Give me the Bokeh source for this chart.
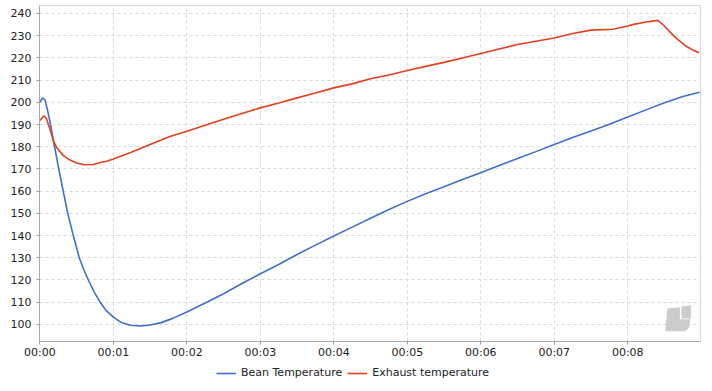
from bokeh.plotting import figure
from bokeh.layouts import column
from bokeh.models import Legend, LegendItem, FixedTicker, Range1d
from bokeh.embed import file_html
from bokeh.resources import INLINE

bean_t = [0, 0.036, 0.07, 0.105, 0.145, 0.2, 0.257, 0.315, 0.38, 0.455, 0.536, 0.6, 0.66, 0.74, 0.82, 0.9, 1.0, 1.1, 1.23, 1.37, 1.5, 1.65, 1.8, 2.0, 2.25, 2.5, 2.75, 3.0, 3.25, 3.5, 3.75, 4.0, 4.25, 4.5, 4.75, 5.0, 5.25, 5.5, 5.75, 6.0, 6.25, 6.5, 6.75, 7.0, 7.25, 7.5, 7.75, 8.0, 8.25, 8.5, 8.75, 8.98]
bean_v = [200, 202, 201, 196.4, 190, 180, 170, 160.4, 150, 140, 130, 124.5, 120, 114.5, 110, 106.3, 103.3, 101, 99.6, 99.3, 99.7, 100.8, 102.6, 105.6, 109.6, 113.8, 118.4, 122.8, 127, 131.5, 135.7, 139.8, 143.8, 147.8, 151.7, 155.4, 158.8, 162, 165.2, 168.3, 171.5, 174.7, 177.8, 181, 184.2, 187.1, 190.1, 193.4, 196.6, 199.8, 202.6, 204.5]

exhaust_t = [0, 0.055, 0.09, 0.136, 0.18, 0.227, 0.32, 0.41, 0.5, 0.61, 0.73, 0.82, 0.91, 1.0, 1.25, 1.5, 1.75, 2.0, 2.25, 2.5, 2.75, 3.0, 3.25, 3.5, 3.75, 4.0, 4.25, 4.5, 4.75, 5.0, 5.25, 5.5, 5.75, 6.0, 6.25, 6.5, 6.75, 7.0, 7.25, 7.5, 7.8, 8.0, 8.08, 8.25, 8.41, 8.49, 8.58, 8.67, 8.78, 8.9, 8.97]
exhaust_v = [191.8, 194, 192.6, 188, 183, 179.7, 176, 174, 172.7, 171.9, 172, 172.9, 173.5, 174.5, 177.6, 181, 184.4, 187, 189.7, 192.4, 195, 197.5, 199.7, 202, 204.2, 206.5, 208.3, 210.6, 212.3, 214.3, 216.2, 218, 220, 222, 224, 226, 227.5, 229, 231, 232.5, 232.9, 234.4, 235.1, 236.2, 236.9, 234.6, 231.5, 228.6, 225.6, 223.3, 222.3]

x_ticks = [0, 1, 2, 3, 4, 5, 6, 7, 8]
x_labels = ["00:00", "00:01", "00:02", "00:03", "00:04", "00:05", "00:06", "00:07", "00:08"]
y_ticks = [100, 110, 120, 130, 140, 150, 160, 170, 180, 190, 200, 210, 220, 230, 240]
series_names = ["Bean Temperature", "Exhaust temperature"]
series_colors = ["#3f6fd1", "#e2401f"]

# watermark outline, in axis units
logo_a_t = [8.54, 8.71, 8.71, 8.85, 8.84, 8.78, 8.51]
logo_a_v = [107.2, 107.7, 102.3, 102.3, 98.7, 96.9, 96.9]
logo_b_t = [8.73, 8.86, 8.86, 8.73]
logo_b_v = [108.1, 108.6, 102.7, 102.7]

p = figure(frame_width=661, frame_height=336, output_backend="svg", toolbar_location=None,
           x_range=Range1d(-0.005, 8.99), y_range=Range1d(92.3, 243.6),
           min_border_left=39, min_border_right=4, min_border_top=5, min_border_bottom=20)
p.background_fill_color = "white"
p.outline_line_color = "#d8d8d8"

for ax in (p.xaxis[0], p.yaxis[0]):
    ax.axis_line_color = "#aaaaaa"
    ax.axis_line_width = 1
    ax.major_tick_line_color = "#999999"
    ax.major_tick_out = 3
    ax.major_tick_in = 0
    ax.minor_tick_line_color = None
    ax.major_label_text_font = "DejaVu Sans"
    ax.major_label_text_font_size = "11px"
    ax.major_label_text_color = "#222222"
p.xaxis[0].major_label_standoff = 1
p.yaxis[0].major_label_standoff = 5

p.xaxis[0].ticker = FixedTicker(ticks=x_ticks)
p.xaxis[0].major_label_overrides = {t: l for t, l in zip(x_ticks, x_labels)}
p.yaxis[0].ticker = FixedTicker(ticks=y_ticks)

for g in (p.xgrid[0], p.ygrid[0]):
    g.grid_line_color = "#d8d8d8"
    g.grid_line_dash = "3 3"
    g.grid_line_width = 1

p.patches([logo_a_t, logo_b_t], [logo_a_v, logo_b_v], fill_color="#cccccc", line_color=None)
p.line(bean_t, bean_v, line_color=series_colors[0], line_width=1.6)
p.line(exhaust_t, exhaust_v, line_color=series_colors[1], line_width=1.6)

q = figure(width=704, height=22, output_backend="svg", toolbar_location=None,
           x_range=Range1d(0, 1), y_range=Range1d(0, 1), x_axis_type=None, y_axis_type=None,
           min_border_left=0, min_border_right=0, min_border_top=0, min_border_bottom=0)
q.grid.visible = False
q.outline_line_color = None
k1 = q.line(bean_t, bean_v, line_color=series_colors[0], line_width=1.6)
k2 = q.line(exhaust_t, exhaust_v, line_color=series_colors[1], line_width=1.6)
legend = Legend(items=[LegendItem(label=series_names[0], renderers=[k1]),
                       LegendItem(label=series_names[1], renderers=[k2])],
                orientation="horizontal", location=(177, 4), border_line_color=None,
                background_fill_alpha=0, label_text_font="DejaVu Sans", label_text_font_size="11px",
                label_text_color="#222222", glyph_width=20, glyph_height=10, spacing=5,
                label_standoff=5, margin=0, padding=2)
q.add_layout(legend, "center")

open("out.html", "w").write(file_html(column(p, q, spacing=0), INLINE))
